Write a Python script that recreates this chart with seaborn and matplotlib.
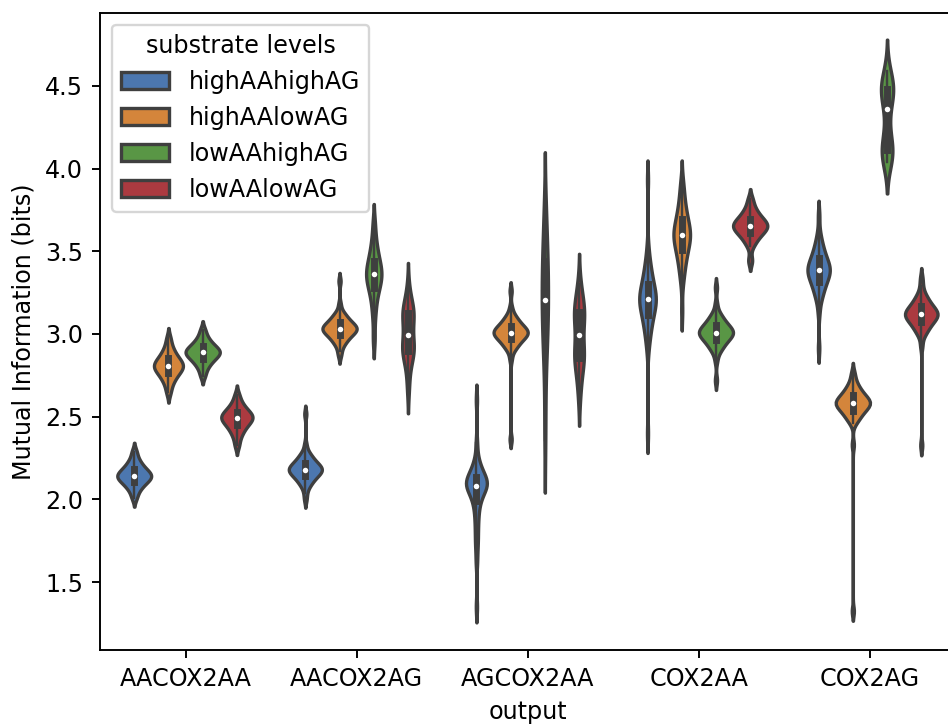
import numpy as np
import pandas as pd
import matplotlib
matplotlib.use("Agg")
import matplotlib.pyplot as plt
import seaborn as sns

# ---------------- data ----------------
categories = ["AACOX2AA", "AACOX2AG", "AGCOX2AA", "COX2AA", "COX2AG"]
levels = ["highAAhighAG", "highAAlowAG", "lowAAhighAG", "lowAAlowAG"]
level_colors = ["#4c77af", "#d4853b", "#599645", "#ab3a40"]

# one list of mutual-information samples per substrate level (same order as `levels`)
aacox2aa = [
    [2.010, 2.048, 2.069, 2.085, 2.097, 2.107, 2.116, 2.124, 2.131, 2.137, 2.143,
     2.149, 2.156, 2.164, 2.172, 2.182, 2.193, 2.207, 2.224, 2.247, 2.288],
    [2.648, 2.693, 2.718, 2.738, 2.752, 2.765, 2.776, 2.785, 2.793, 2.801, 2.808,
     2.815, 2.823, 2.832, 2.841, 2.852, 2.865, 2.881, 2.900, 2.927, 2.973],
    [2.749, 2.788, 2.811, 2.827, 2.840, 2.851, 2.861, 2.869, 2.876, 2.883, 2.889,
     2.895, 2.901, 2.908, 2.916, 2.925, 2.936, 2.948, 2.965, 2.986, 3.024],
    [2.327, 2.373, 2.400, 2.419, 2.435, 2.448, 2.459, 2.468, 2.477, 2.485, 2.492,
     2.498, 2.505, 2.512, 2.520, 2.529, 2.540, 2.553, 2.569, 2.591, 2.630],
]
aacox2ag = [
    [2.000, 2.040, 2.072, 2.084, 2.096, 2.105, 2.114, 2.121, 2.128, 2.134, 2.140,
     2.145, 2.150, 2.154, 2.158, 2.162, 2.166, 2.170, 2.173, 2.177, 2.180, 2.183,
     2.187, 2.190, 2.194, 2.198, 2.202, 2.206, 2.210, 2.215, 2.220, 2.226, 2.232,
     2.239, 2.246, 2.255, 2.264, 2.276, 2.288, 2.330, 2.516],
    [2.870, 2.900, 2.928, 2.939, 2.951, 2.959, 2.968, 2.975, 2.982, 2.987, 2.993,
     2.998, 3.003, 3.007, 3.011, 3.015, 3.019, 3.022, 3.026, 3.029, 3.032, 3.035,
     3.038, 3.042, 3.045, 3.049, 3.053, 3.057, 3.061, 3.066, 3.071, 3.077, 3.082,
     3.089, 3.096, 3.105, 3.113, 3.125, 3.136, 3.180, 3.320],
    [2.972, 3.102, 3.172, 3.222, 3.256, 3.280, 3.301, 3.318, 3.334, 3.349, 3.362,
     3.375, 3.390, 3.406, 3.423, 3.444, 3.468, 3.496, 3.533, 3.582, 3.667],
    [2.670, 2.760, 2.840, 2.865, 2.880, 2.895, 2.905, 2.915, 2.930, 2.950, 2.980,
     3.010, 3.050, 3.080, 3.100, 3.115, 3.130, 3.140, 3.155, 3.170, 3.200, 3.280],
]
agcox2aa = [
    [1.350, 1.620, 1.700, 1.750, 1.795, 1.840, 1.880, 1.915, 1.945, 1.970, 1.990,
     2.006, 2.020, 2.032, 2.042, 2.051, 2.059, 2.066, 2.072, 2.078, 2.083, 2.088,
     2.093, 2.098, 2.103, 2.108, 2.113, 2.119, 2.125, 2.131, 2.138, 2.146, 2.155,
     2.165, 2.177, 2.190, 2.205, 2.225, 2.260, 2.340, 2.600],
    [2.363, 2.850, 2.897, 2.910, 2.922, 2.931, 2.941, 2.948, 2.955, 2.961, 2.967,
     2.973, 2.978, 2.982, 2.987, 2.991, 2.995, 2.998, 3.002, 3.006, 3.009, 3.012,
     3.016, 3.020, 3.023, 3.027, 3.031, 3.036, 3.040, 3.045, 3.051, 3.057, 3.063,
     3.070, 3.077, 3.087, 3.096, 3.108, 3.121, 3.160, 3.260],
    [2.360, 2.600, 2.800, 2.900, 2.950, 3.000, 3.050, 3.100, 3.150, 3.200, 3.207,
     3.250, 3.300, 3.350, 3.400, 3.440, 3.480, 3.520, 3.600, 3.700, 3.780],
    [2.630, 2.720, 2.790, 2.830, 2.850, 2.865, 2.880, 2.900, 2.930, 2.995,
     3.060, 3.090, 3.105, 3.120, 3.140, 3.160, 3.190, 3.230, 3.300],
]
cox2aa = [
    [2.400, 2.900, 2.959, 2.987, 3.015, 3.036, 3.057, 3.073, 3.089, 3.103, 3.117,
     3.129, 3.141, 3.151, 3.161, 3.170, 3.179, 3.187, 3.196, 3.203, 3.211, 3.219,
     3.226, 3.235, 3.243, 3.252, 3.261, 3.271, 3.281, 3.293, 3.305, 3.319, 3.333,
     3.349, 3.365, 3.386, 3.407, 3.435, 3.463, 3.530, 3.930],
    [3.140, 3.300, 3.348, 3.376, 3.404, 3.425, 3.446, 3.462, 3.478, 3.492, 3.506,
     3.518, 3.530, 3.540, 3.550, 3.559, 3.568, 3.576, 3.585, 3.592, 3.600, 3.608,
     3.615, 3.624, 3.632, 3.641, 3.650, 3.660, 3.670, 3.682, 3.694, 3.708, 3.722,
     3.738, 3.754, 3.775, 3.796, 3.824, 3.852, 3.890, 3.930],
    [2.720, 2.840, 2.887, 2.900, 2.914, 2.924, 2.934, 2.942, 2.950, 2.957, 2.963,
     2.969, 2.975, 2.980, 2.985, 2.989, 2.993, 2.997, 3.002, 3.005, 3.009, 3.013,
     3.016, 3.021, 3.025, 3.029, 3.033, 3.038, 3.043, 3.049, 3.055, 3.061, 3.068,
     3.076, 3.084, 3.094, 3.104, 3.118, 3.131, 3.180, 3.280],
    [3.444, 3.534, 3.564, 3.584, 3.598, 3.611, 3.622, 3.631, 3.639, 3.647, 3.654,
     3.661, 3.669, 3.677, 3.686, 3.697, 3.710, 3.724, 3.744, 3.769, 3.814],
]
cox2ag = [
    [2.915, 3.130, 3.198, 3.219, 3.240, 3.256, 3.271, 3.284, 3.296, 3.306, 3.317,
     3.326, 3.334, 3.342, 3.349, 3.356, 3.363, 3.369, 3.375, 3.381, 3.387, 3.393,
     3.399, 3.405, 3.411, 3.418, 3.425, 3.432, 3.440, 3.448, 3.457, 3.468, 3.478,
     3.490, 3.503, 3.518, 3.534, 3.555, 3.576, 3.620, 3.717],
    [1.324, 2.330, 2.461, 2.474, 2.488, 2.498, 2.508, 2.516, 2.524, 2.531, 2.537,
     2.543, 2.549, 2.554, 2.559, 2.563, 2.567, 2.571, 2.576, 2.579, 2.583, 2.587,
     2.590, 2.595, 2.599, 2.603, 2.607, 2.612, 2.617, 2.623, 2.629, 2.635, 2.642,
     2.650, 2.658, 2.668, 2.678, 2.692, 2.705, 2.735, 2.767],
    [4.040, 4.060, 4.075, 4.090, 4.100, 4.110, 4.125, 4.150, 4.200, 4.280, 4.363,
     4.420, 4.445, 4.460, 4.470, 4.480, 4.490, 4.500, 4.520, 4.550, 4.590],
    [2.327, 2.930, 2.989, 3.004, 3.018, 3.029, 3.040, 3.048, 3.056, 3.064, 3.071,
     3.077, 3.083, 3.088, 3.093, 3.098, 3.102, 3.107, 3.111, 3.115, 3.119, 3.123,
     3.127, 3.131, 3.136, 3.140, 3.145, 3.150, 3.155, 3.161, 3.167, 3.174, 3.182,
     3.190, 3.198, 3.209, 3.220, 3.234, 3.249, 3.290, 3.338],
]

x_label = "output"
y_label = "Mutual Information (bits)"
hue_label = "substrate levels"

# ---------------- build long table ----------------
per_category = dict(zip(categories, [aacox2aa, aacox2ag, agcox2aa, cox2aa, cox2ag]))
rows = []
for cat, groups in per_category.items():
    for lev, vals in zip(levels, groups):
        for v in vals:
            rows.append((cat, lev, v))
df = pd.DataFrame(rows, columns=[x_label, hue_label, y_label])


def robust_bw(kde):
    """Silverman's robust rule-of-thumb bandwidth factor."""
    x = np.asarray(kde.dataset).ravel()
    sd = x.std(ddof=1)
    q1, q3 = np.percentile(x, [25, 75])
    spread = min(sd, (q3 - q1) / 1.349)
    return 0.9 * spread / sd * x.size ** (-0.2)


# ---------------- figure ----------------
DPI = 172
fig = plt.figure(figsize=(949 / DPI, 726 / DPI), dpi=DPI)
ax = fig.add_axes([100 / 949, 1 - 650 / 726, 855.5 / 949, (650 - 12.7) / 726])

for i, cat in enumerate(categories):
    sub = df[df[x_label] == cat]
    sns.violinplot(
        data=sub, x=x_label, y=y_label, hue=hue_label,
        order=categories, hue_order=levels, palette=level_colors,
        inner="box", cut=2, density_norm="area", common_norm=True,
        bw_method=robust_bw, linewidth=1.4, linecolor="#3f3f3f", saturation=1,
        inner_kws=dict(box_width=2.9, whis_width=1.0),
        legend=(i == 0), ax=ax,
    )

# median as white dot, projecting caps on the IQR bar (classic seaborn look)
for line in ax.lines:
    mk = line.get_marker()
    if mk not in (None, "None", "", " "):
        line.set_marker("o")
        line.set_markersize(2.3)
        line.set_markerfacecolor("white")
        line.set_markeredgecolor("white")
        line.set_markeredgewidth(0)
    elif line.get_linewidth() > 2:
        line.set_solid_capstyle("projecting")

ax.set_xlim(-0.5, 4.5)
ax.set_ylim(1.089, 4.943)
sns.move_legend(ax, "upper left", title=hue_label)

fig.savefig("out.png", dpi=DPI)
